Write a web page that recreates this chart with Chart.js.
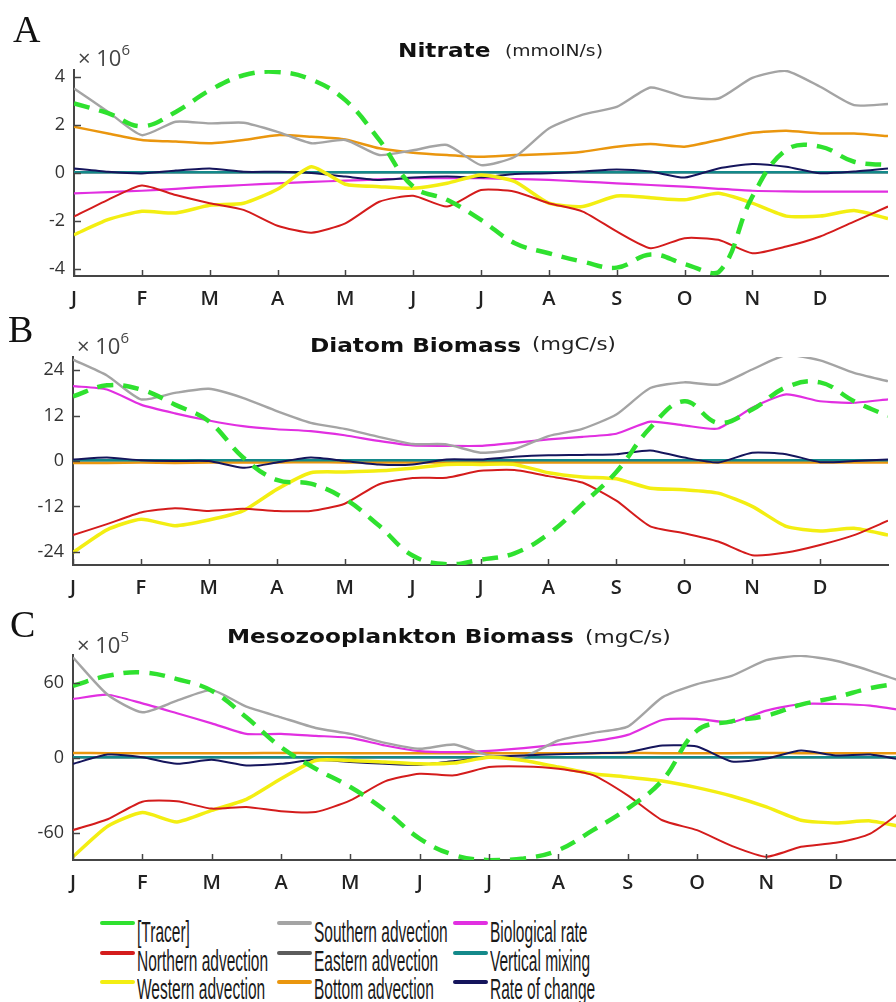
<!DOCTYPE html>
<html>
<head>
<meta charset="utf-8">
<script src="https://cdn.jsdelivr.net/npm/chart.js@4.4.1/dist/chart.umd.min.js"></script>
<style>
  html, body { margin: 0; padding: 0; background: #fff; }
  body { position: relative; width: 896px; height: 1002px; overflow: hidden; }
  canvas { position: absolute; left: 0; }
  .letter { position: absolute; font-family: "Liberation Serif", serif; font-size: 38px; line-height: 1; color: #111; }
  .exp { position: absolute; font-family: "Open Sans", sans-serif; font-size: 22px; line-height: 1; color: #444; white-space: nowrap; }
  .exp sup { font-size: 15px; position: relative; top: -3px; }
  .title { position: absolute; font-family: "DejaVu Sans", sans-serif; font-weight: bold; font-size: 20px; line-height: 1; color: #111; white-space: nowrap; transform: scaleX(1.16); transform-origin: left top; }
  .unit { position: absolute; font-family: "DejaVu Sans", sans-serif; font-size: 17px; line-height: 1; color: #222; white-space: nowrap; transform: scaleX(1.25); transform-origin: left top; }
  .lg-line { position: absolute; width: 35px; height: 4px; border-radius: 2px; }
  .lg-text { position: absolute; font-family: "Liberation Sans", sans-serif; font-size: 29px; line-height: 1; color: #1a1a1a; white-space: nowrap; transform: scaleX(0.535); transform-origin: left top; }
</style>
</head>
<body>
<canvas id="chartA" width="896" height="316" style="top:0px"></canvas>
<canvas id="chartB" width="896" height="315" style="top:290px"></canvas>
<canvas id="chartC" width="912" height="310" style="top:590px"></canvas>

<div class="letter" style="left:13px; top:10px">A</div>
<div class="exp" style="left:78px; top:45px">&times; 10<sup>6</sup></div>
<div class="title" style="left:398px; top:40px">Nitrate</div>
<div class="unit" style="left:505px; top:44px; font-size:15px">(mmolN/s)</div>

<div class="letter" style="left:8px; top:310px">B</div>
<div class="exp" style="left:77px; top:333px">&times; 10<sup>6</sup></div>
<div class="title" style="left:310px; top:335px">Diatom Biomass</div>
<div class="unit" style="left:532px; top:336px">(mgC/s)</div>

<div class="letter" style="left:10px; top:605px">C</div>
<div class="exp" style="left:77px; top:632px">&times; 10<sup>5</sup></div>
<div class="title" style="left:227px; top:626px">Mesozooplankton Biomass</div>
<div class="unit" style="left:585px; top:629px; transform:scaleX(1.28)">(mgC/s)</div>

<div id="legend"></div>

<script>
// x positions: months since 1 Jan, sampled every half month
const months = [0, 0.5, 1, 1.5, 2, 2.5, 3, 3.5, 4, 4.5, 5, 5.5, 6, 6.5, 7, 7.5, 8, 8.5, 9, 9.5, 10, 10.5, 11, 11.5, 12];
const monthTicks = [0, 1, 2, 3, 4, 5, 6, 7, 8, 9, 10, 11];
const monthLetters = ['J', 'F', 'M', 'A', 'M', 'J', 'J', 'A', 'S', 'O', 'N', 'D'];

const seriesNames = ['[Tracer]', 'Northern advection', 'Western advection', 'Southern advection',
  'Eastern advection', 'Bottom advection', 'Biological rate', 'Vertical mixing', 'Rate of change'];

// A: Nitrate (x10^6 mmolN/s)
const tracerA = [2.9, 2.5, 1.95, 2.55, 3.45, 4.08, 4.22, 3.9, 3.04, 1.38, -0.57, -1.12, -1.96, -2.93, -3.35, -3.7, -3.95, -3.4, -3.8, -4.15, -0.99, 0.96, 1.1, 0.47, 0.33];
const northA = [-1.82, -1.12, -0.52, -0.92, -1.26, -1.54, -2.2, -2.49, -2.1, -1.2, -0.95, -1.4, -0.71, -0.78, -1.26, -1.61, -2.44, -3.14, -2.72, -2.79, -3.35, -3.07, -2.65, -2.03, -1.4];
const westA = [-2.58, -1.95, -1.6, -1.67, -1.35, -1.26, -0.68, 0.26, -0.47, -0.57, -0.64, -0.43, -0.08, -0.36, -1.26, -1.4, -0.96, -1.03, -1.12, -0.85, -1.26, -1.8, -1.8, -1.57, -1.9];
const southA = [3.53, 2.56, 1.58, 2.14, 2.07, 2.1, 1.72, 1.24, 1.38, 0.75, 0.95, 1.17, 0.33, 0.68, 1.86, 2.44, 2.76, 3.57, 3.18, 3.11, 3.97, 4.26, 3.6, 2.83, 2.88];
const eastA = [0.02, 0.02, 0.02, 0.02, 0.02, 0.02, 0.02, 0.02, 0.02, 0.02, 0.02, 0.02, 0.02, 0.02, 0.02, 0.02, 0.02, 0.02, 0.02, 0.02, 0.02, 0.02, 0.02, 0.02, 0.02];
const bottomA = [1.93, 1.65, 1.38, 1.31, 1.24, 1.38, 1.58, 1.51, 1.4, 1.03, 0.85, 0.75, 0.68, 0.75, 0.79, 0.89, 1.1, 1.21, 1.1, 1.38, 1.68, 1.76, 1.65, 1.65, 1.54];
const bioA = [-0.85, -0.8, -0.74, -0.66, -0.57, -0.5, -0.43, -0.37, -0.32, -0.27, -0.22, -0.22, -0.22, -0.25, -0.29, -0.36, -0.43, -0.5, -0.57, -0.66, -0.74, -0.77, -0.78, -0.78, -0.78];
const mixA = [0.03, 0.03, 0.03, 0.03, 0.03, 0.03, 0.03, 0.03, 0.03, 0.03, 0.03, 0.03, 0.03, 0.03, 0.03, 0.03, 0.03, 0.03, 0.03, 0.03, 0.03, 0.03, 0.03, 0.03, 0.03];
const rateA = [0.19, 0.05, -0.02, 0.1, 0.19, 0.05, 0.05, 0, -0.15, -0.29, -0.19, -0.15, -0.18, -0.04, -0.01, 0.06, 0.15, 0.06, -0.19, 0.19, 0.38, 0.26, -0.01, 0.06, 0.19];

// B: Diatom Biomass (x10^6 mgC/s)
const tracerB = [17.1, 20.0, 18.9, 14.9, 10.5, 1.0, -5.0, -6.0, -10.0, -17.0, -25.0, -27.3, -26.1, -24.4, -19.3, -11.4, -2.9, 8.8, 15.8, 10.1, 13.6, 19.5, 20.8, 15.8, 11.9];
const northB = [-19.6, -16.7, -13.6, -12.5, -13.2, -12.6, -13.2, -13.2, -11.3, -6.2, -4.5, -4.4, -2.6, -2.4, -4.0, -5.7, -10.5, -17.3, -19.1, -21.3, -24.9, -24.2, -22.2, -19.6, -15.8];
const westB = [-24.2, -18.2, -15.4, -17.1, -15.6, -13.2, -7.5, -3.1, -2.9, -2.6, -1.9, -0.9, -0.9, -0.9, -3.1, -4.2, -4.7, -7.2, -7.6, -8.5, -12.0, -17.3, -18.5, -17.8, -19.6];
const southB = [26.8, 22.6, 16.3, 18.0, 19.1, 16.7, 13.2, 10.1, 8.5, 6.4, 4.5, 4.4, 2.2, 3.1, 6.6, 8.5, 12.3, 19.3, 20.8, 20.2, 24.2, 28.0, 26.6, 23.3, 21.1];
const eastB = [0.1, 0.1, 0.1, 0.1, 0.1, 0.1, 0.1, 0.1, 0.1, 0.1, 0.1, 0.1, 0.1, 0.1, 0.1, 0.1, 0.1, 0.1, 0.1, 0.1, 0.1, 0.1, 0.1, 0.1, 0.1];
const bottomB = [-0.5, -0.5, -0.4, -0.5, -0.4, -0.4, -0.4, -0.3, -0.4, -0.4, -0.4, -0.4, -0.3, -0.4, -0.4, -0.4, -0.4, -0.4, -0.4, -0.4, -0.4, -0.4, -0.4, -0.4, -0.4];
const bioB = [19.8, 18.9, 14.9, 12.6, 10.7, 9.2, 8.4, 7.9, 6.8, 5.3, 4.1, 4.0, 4.0, 4.8, 5.7, 6.4, 7.2, 10.4, 9.4, 8.6, 14.1, 17.6, 15.8, 15.4, 16.3];
const mixB = [0.2, 0.2, 0.2, 0.2, 0.2, 0.2, 0.2, 0.2, 0.2, 0.2, 0.2, 0.2, 0.2, 0.2, 0.2, 0.2, 0.2, 0.2, 0.2, 0.2, 0.2, 0.2, 0.2, 0.2, 0.2];
const rateB = [0.4, 0.9, 0.2, 0, 0, -1.8, -0.4, 0.9, 0, -0.9, -0.9, 0.4, 0.4, 1.1, 1.5, 1.6, 1.8, 2.8, 0.9, -0.4, 2.2, 1.8, -0.3, 0, 0.4];

// C: Mesozooplankton Biomass (x10^5 mgC/s)
const tracerC = [57.5, 65.4, 68.1, 62.8, 53.5, 32.3, 8.5, -8.7, -23.3, -41.9, -64.4, -77.6, -81.6, -80.3, -73.6, -57.7, -40.5, -18.0, 21.7, 29.1, 33.6, 42.4, 48.2, 55.6, 60.1];
const northC = [-57.7, -49.0, -35.0, -34.7, -40.5, -39.2, -42.6, -43.2, -33.9, -18.8, -12.7, -14.0, -7.4, -6.9, -8.7, -13.8, -29.9, -49.8, -57.7, -70.2, -78.9, -71.0, -67.8, -60.4, -40.5];
const westC = [-78.9, -54.6, -43.7, -51.1, -41.9, -33.1, -16.7, -2.1, -2.1, -3.4, -4.8, -4.2, 0.5, -2.1, -7.4, -12.7, -15.4, -18.5, -23.8, -30.5, -39.2, -49.8, -51.9, -50.3, -55.6];
const southC = [80.0, 50.3, 36.3, 45.6, 54.0, 40.8, 32.3, 23.8, 19.1, 11.9, 7.2, 10.6, 1.9, 1.1, 13.8, 19.9, 24.9, 48.2, 58.8, 65.4, 77.9, 81.3, 77.4, 69.4, 60.0];
const eastC = [0.3, 0.3, 0.3, 0.3, 0.3, 0.3, 0.3, 0.3, 0.3, 0.3, 0.3, 0.3, 0.3, 0.3, 0.3, 0.3, 0.3, 0.3, 0.3, 0.3, 0.3, 0.3, 0.3, 0.3, 0.3];
const bottomC = [3.9, 3.7, 3.7, 3.6, 3.7, 3.7, 3.8, 3.7, 3.7, 3.6, 3.7, 3.7, 3.7, 3.6, 3.7, 3.7, 3.8, 3.7, 3.7, 3.7, 3.8, 3.7, 3.7, 3.7, 3.7];
const bioC = [46.9, 50.3, 43.4, 35.5, 27.5, 19.1, 19.1, 17.5, 15.9, 9.8, 5.3, 4.5, 5.6, 7.7, 10.6, 13.2, 18.3, 30.2, 31.0, 28.3, 37.6, 42.9, 42.9, 41.6, 37.6];
const mixC = [0.5, 0.5, 0.5, 0.5, 0.5, 0.5, 0.5, 0.5, 0.5, 0.5, 0.5, 0.5, 0.5, 0.5, 0.5, 0.5, 0.5, 0.5, 0.5, 0.5, 0.5, 0.5, 0.5, 0.5, 0.5];
const rateC = [-4.8, 2.6, 0.5, -4.8, -1.6, -6.1, -4.8, -1.6, -3.4, -4.8, -5.6, -2.6, 0.5, 1.9, 2.9, 3.7, 4.5, 9.8, 9.0, -2.9, -0.5, 5.8, 1.9, 2.6, -2.1];

const yTicksA = [-4, -2, 0, 2, 4];
const yTicksB = [-24, -12, 0, 12, 24];
const yTicksC = [-60, 0, 60];

// line looks; lower order is drawn on top
const styles = {
  '[Tracer]':           { color: '#2fe12f', width: 4.5, dash: [16, 10], order: 0 },
  'Northern advection': { color: '#d41c1c', width: 2, order: 1 },
  'Western advection':  { color: '#f3ee12', width: 3.5, order: 2 },
  'Rate of change':     { color: '#15155c', width: 2, order: 3 },
  'Southern advection': { color: '#a4a4a4', width: 2.4, order: 4 },
  'Biological rate':    { color: '#e12fe1', width: 2.2, order: 5 },
  'Vertical mixing':    { color: '#14898a', width: 2.5, order: 6 },
  'Bottom advection':   { color: '#ea960e', width: 2.5, order: 7 },
  'Eastern advection':  { color: '#5c5c5c', width: 2, order: 8 }
};

const innerTicks = {
  id: 'innerTicks',
  afterDraw(chart) {
    const { ctx, chartArea, scales } = chart;
    ctx.save();
    ctx.strokeStyle = '#454545';
    ctx.lineWidth = 1.5;
    scales.x.ticks.forEach(t => {
      const px = Math.round(scales.x.getPixelForValue(t.value)) + 0.5;
      ctx.beginPath();
      ctx.moveTo(px, chartArea.bottom);
      ctx.lineTo(px, chartArea.bottom - 6);
      ctx.stroke();
    });
    scales.y.ticks.forEach(t => {
      const py = Math.round(scales.y.getPixelForValue(t.value)) + 0.5;
      ctx.beginPath();
      ctx.moveTo(chartArea.left, py);
      ctx.lineTo(chartArea.left + 7, py);
      ctx.stroke();
    });
    ctx.restore();
  }
};

function drawPanel(canvasId, values, yMin, yMax, yTicks, pad) {
  const ctx = document.getElementById(canvasId).getContext('2d');
  return new Chart(ctx, {
    type: 'line',
    data: {
      datasets: seriesNames.map((name, i) => ({
        label: name,
        data: months.map((m, j) => ({ x: m, y: values[i][j] })),
        borderColor: styles[name].color,
        borderWidth: styles[name].width,
        borderDash: styles[name].dash || [],
        order: styles[name].order,
        pointRadius: 0,
        tension: name === '[Tracer]' ? 0.4 : 0.2,
        fill: false
      }))
    },
    options: {
      responsive: false,
      animation: false,
      devicePixelRatio: 1,
      layout: { padding: pad },
      plugins: { legend: { display: false }, tooltip: { enabled: false } },
      scales: {
        x: {
          type: 'linear', min: 0, max: 12,
          afterBuildTicks: s => { s.ticks = monthTicks.map(v => ({ value: v })); },
          afterFit: s => { s.height = 40; },
          grid: { display: false, drawTicks: false },
          border: { display: true, color: '#454545', width: 2 },
          ticks: {
            padding: 11, color: '#222', autoSkip: false, maxRotation: 0,
            font: { family: 'Open Sans', size: 20, weight: '600' },
            callback: v => monthLetters[v] || ''
          }
        },
        y: {
          type: 'linear', min: yMin, max: yMax,
          afterBuildTicks: s => { s.ticks = yTicks.map(v => ({ value: v })); },
          afterFit: s => { s.width = 50; },
          grid: { display: false, drawTicks: false },
          border: { display: true, color: '#454545', width: 2 },
          ticks: {
            padding: 9, color: '#333',
            font: { family: 'Open Sans', size: 18 },
            callback: v => String(v)
          }
        }
      }
    },
    plugins: [innerTicks]
  });
}

drawPanel('chartA', [tracerA, northA, westA, southA, eastA, bottomA, bioA, mixA, rateA],
  -4.3, 4.3, yTicksA, { left: 24, right: 8, top: 70, bottom: 0 });
drawPanel('chartB', [tracerB, northB, westB, southB, eastB, bottomB, bioB, mixB, rateB],
  -27.5, 27.5, yTicksB, { left: 23, right: 8, top: 67, bottom: 0 });
drawPanel('chartC', [tracerC, northC, westC, southC, eastC, bottomC, bioC, mixC, rateC],
  -81.5, 82, yTicksC, { left: 23, right: 7, top: 65, bottom: 0 });

// legend, three columns of three rows
const legendCols = [
  { lineX: 100, textX: 137, names: ['[Tracer]', 'Northern advection', 'Western advection'] },
  { lineX: 277, textX: 314, names: ['Southern advection', 'Eastern advection', 'Bottom advection'] },
  { lineX: 453, textX: 490, names: ['Biological rate', 'Vertical mixing', 'Rate of change'] }
];
const legendRowsLineY = [923, 953, 982];
const legendRowsTextTop = [918, 947, 975];
const legend = document.getElementById('legend');
legendCols.forEach(col => {
  col.names.forEach((name, r) => {
    const line = document.createElement('div');
    line.className = 'lg-line';
    line.style.left = col.lineX + 'px';
    line.style.top = (legendRowsLineY[r] - 2) + 'px';
    line.style.background = styles[name].color;
    legend.appendChild(line);
    const text = document.createElement('div');
    text.className = 'lg-text';
    text.style.left = col.textX + 'px';
    text.style.top = legendRowsTextTop[r] + 'px';
    text.textContent = name;
    legend.appendChild(text);
  });
});
</script>
</body>
</html>
